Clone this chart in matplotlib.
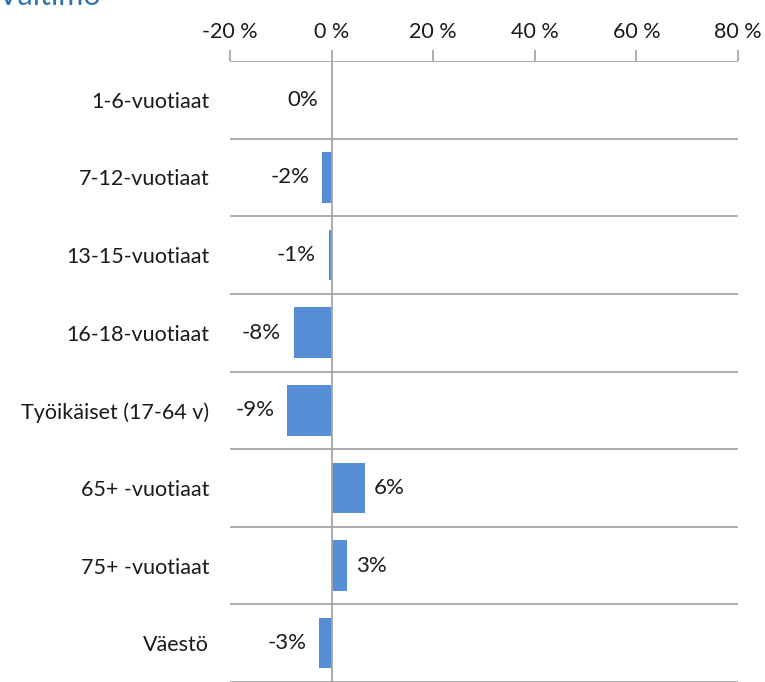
import matplotlib
matplotlib.use("Agg")
import matplotlib.pyplot as plt
import numpy as np

plt.rcParams['font.family'] = ['Lato', 'DejaVu Sans']

# data
groups = ["1-6-vuotiaat", "7-12-vuotiaat", "13-15-vuotiaat", "16-18-vuotiaat",
          "Työikäiset (17-64 v)", "65+ -vuotiaat", "75+ -vuotiaat", "Väestö"]
change = [0.0, -1.8, -0.6, -7.5, -8.7, 6.5, 3.0, -2.4]
value_labels = ["0%", "-2%", "-1%", "-8%", "-9%", "6%", "3%", "-3%"]
tick_vals = [-20, 0, 20, 40, 60, 80]
tick_labels = ["-20 %", "0 %", "20 %", "40 %", "60 %", "80 %"]

grey = "#a6a6a6"
blue = "#558ed5"
txt = "#1a1a1a"

fig = plt.figure(figsize=(7.65, 6.82), dpi=100)
ax = fig.add_axes([230 / 765, 0.0, 508 / 765, 1 - 61 / 682])

y = np.arange(len(groups))
ax.barh(y, change, height=0.65, color=blue, zorder=3)

ax.set_xlim(-20, 80)
ax.set_ylim(len(groups) - 0.5, -0.5)

ax.xaxis.tick_top()
ax.set_xticks(tick_vals)
ax.set_xticklabels(tick_labels, fontsize=15.5, color=txt)
ax.tick_params(axis="x", length=8, color=grey, width=1.3, pad=6)
ax.tick_params(axis="y", length=0, pad=15)
ax.set_yticks(y)
ax.set_yticklabels(groups, fontsize=15.5, color=txt)

# row separators
for b in np.arange(-0.5, len(groups), 1.0):
    ax.axhline(b, color=grey, lw=1.3, zorder=1)
ax.axvline(0, color=grey, lw=1.3, zorder=4)

for s in ax.spines.values():
    s.set_visible(False)

for yi, v, lab in zip(y, change, value_labels):
    if v > 0:
        ax.text(v + 1.8, yi, lab, ha="left", va="center", fontsize=16, color=txt)
    else:
        ax.text(min(v, 0) - 2.6, yi, lab, ha="right", va="center", fontsize=16, color=txt)

fig.text(-0.003, 1 - 5 / 682, "Valtimo", fontsize=22, color="#2e75b6",
         ha="left", va="baseline")

fig.savefig("out.png", dpi=100)
